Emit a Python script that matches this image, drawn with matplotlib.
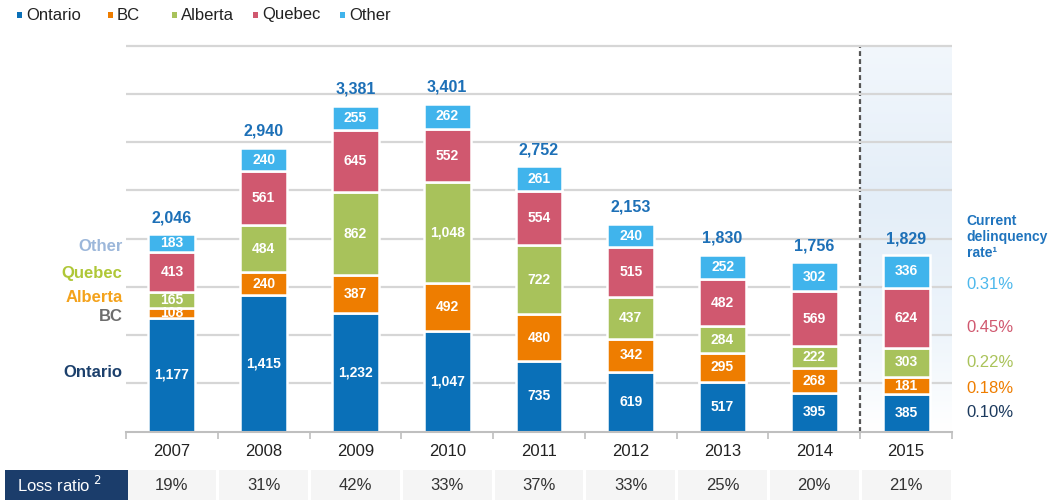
import numpy as np
import matplotlib
matplotlib.use("Agg")
import matplotlib.pyplot as plt
from matplotlib.patches import Rectangle
from matplotlib.colors import LinearSegmentedColormap

plt.rcParams['font.family'] = ['Liberation Sans', 'DejaVu Sans']

years = ["2007", "2008", "2009", "2010", "2011", "2012", "2013", "2014", "2015"]
ontario = [1177, 1415, 1232, 1047, 735, 619, 517, 395, 385]
bc = [108, 240, 387, 492, 480, 342, 295, 268, 181]
alberta = [165, 484, 862, 1048, 722, 437, 284, 222, 303]
quebec = [413, 561, 645, 552, 554, 515, 482, 569, 624]
other = [183, 240, 255, 262, 261, 240, 252, 302, 336]
totals = [2046, 2940, 3381, 3401, 2752, 2153, 1830, 1756, 1829]
loss_ratio = ["19%", "31%", "42%", "33%", "37%", "33%", "25%", "20%", "21%"]
delinq = ["0.31%", "0.45%", "0.22%", "0.18%", "0.10%"]

series = [("Ontario", ontario, "#0A70B8"),
          ("BC", bc, "#EE7D00"),
          ("Alberta", alberta, "#A8C25B"),
          ("Quebec", quebec, "#D0586F"),
          ("Other", other, "#40B4EC")]

W, H = 1052, 501
fig = plt.figure(figsize=(W / 100, H / 100), dpi=100)
ymax = 4030
ax = fig.add_axes([126 / W, 69.5 / H, 826 / W, 388.5 / H])
x = np.arange(len(years))

# shaded 2015 column (light blue, fading to white at the bottom)
grad = np.linspace(0, 1, 200).reshape(-1, 1)
cmap = LinearSegmentedColormap.from_list(
    "g", [(0, "#FFFFFF"), (0.25, "#EEF5FB"), (0.6, "#E4EEF8"), (1, "#F2F7FC")])
ax.imshow(grad, cmap=cmap, aspect="auto", origin="lower",
          extent=(7.5, 8.5, 0, 4000), zorder=0)
ax.plot([7.5, 7.5], [0, 4000], color="#555555", lw=1.6,
        ls=(0, (2.2, 1.4)), zorder=1)

grid_vals = list(range(500, 4001, 500))
ax.hlines(grid_vals, -0.5, len(years) - 0.5, color="#D6D6D6", lw=1.6, zorder=1)

bottom = np.zeros(len(years))
for name, vals, col in series:
    vals = np.array(vals)
    ax.bar(x, vals, 0.51, bottom=bottom, color=col, edgecolor="white",
           linewidth=1.8, zorder=2)
    for xi, v, b in zip(x, vals, bottom):
        ax.text(xi, b + v / 2, f"{v:,}", ha="center", va="center",
                color="white", fontsize=10, fontweight="bold", zorder=3)
    bottom += vals

for xi, t in zip(x, totals):
    ax.annotate(f"{t:,}", (xi, t), xytext=(0, 12), textcoords="offset points",
                ha="center", va="center", color="#1D70B7", fontsize=11.5,
                fontweight="bold", zorder=4)

ax.set_xlim(-0.5, len(years) - 0.5)
ax.set_ylim(0, ymax)

for s in ["top", "right", "left"]:
    ax.spines[s].set_visible(False)
ax.spines["bottom"].set_color("#BFBFBF")
ax.spines["bottom"].set_linewidth(1.5)
ax.set_yticks([])
ax.set_xticks(np.arange(-0.5, len(years)))
ax.set_xticklabels([])
ax.tick_params(axis="x", length=5, color="#BFBFBF", width=1.2)
for xi, yr in zip(x, years):
    ax.text(xi, -210, yr, ha="center", va="center", fontsize=12, color="#222222")

# side labels next to 2007 bar
side = [("Other", 1914, "#9CB7DA"), ("Quebec", 1644, "#AFC737"),
        ("Alberta", 1385, "#F4A21B"), ("BC", 1188, "#6D6D6D"),
        ("Ontario", 617, "#1C406C")]
tr = ax.get_yaxis_transform()
for lab, yy, col in side:
    ax.text(-0.004, yy, lab, transform=tr, ha="right", va="center",
            fontsize=12, fontweight="bold", color=col)

# delinquency labels
ax.text(1.018, 2018, "Current\ndelinquency\nrate\u00b9", transform=tr,
        ha="left", va="center", fontsize=10, fontweight="bold",
        color="#1F74BE", linespacing=1.15)
dcols = ["#4DB8EC", "#D0586F", "#AAC35A", "#EE7D00", "#1C3A5E"]
dys = [1520, 1084, 711, 451, 202]
for lab, yy, col in zip(delinq, dys, dcols):
    ax.text(1.018, yy, lab, transform=tr, ha="left", va="center",
            fontsize=12, color=col)

# loss ratio row
fig.add_artist(Rectangle((5 / W, 1 / H), 123 / W, 30 / H, transform=fig.transFigure,
                         color="#1B3D6B", lw=0))
fig.text(17 / W, 16 / H, "Loss ratio $^2$", ha="left", va="center",
         fontsize=12, color="white")
for i, lr in enumerate(loss_ratio):
    cx = 126 + (i + 0.5) * 826 / len(years)
    cw = 826 / len(years) - 3
    fig.add_artist(Rectangle(((cx - cw / 2) / W, 1 / H), cw / W, 30 / H,
                             transform=fig.transFigure, color="#F5F5F5", lw=0))
    fig.text(cx / W, 15 / H, lr, ha="center", va="center", fontsize=12,
             color="#333333")

# legend
leg_x = [17, 108, 172, 253, 340]
for (name, vals, col), lx in zip(series, leg_x):
    fig.add_artist(Rectangle((lx / W, (H - 17.5) / H), 5 / W, 5 / H,
                             transform=fig.transFigure, color=col, lw=0))
    fig.text((lx + 9) / W, (H - 15) / H, name, ha="left", va="center",
             fontsize=12, color="#222222")

fig.savefig("out.png", dpi=100)
